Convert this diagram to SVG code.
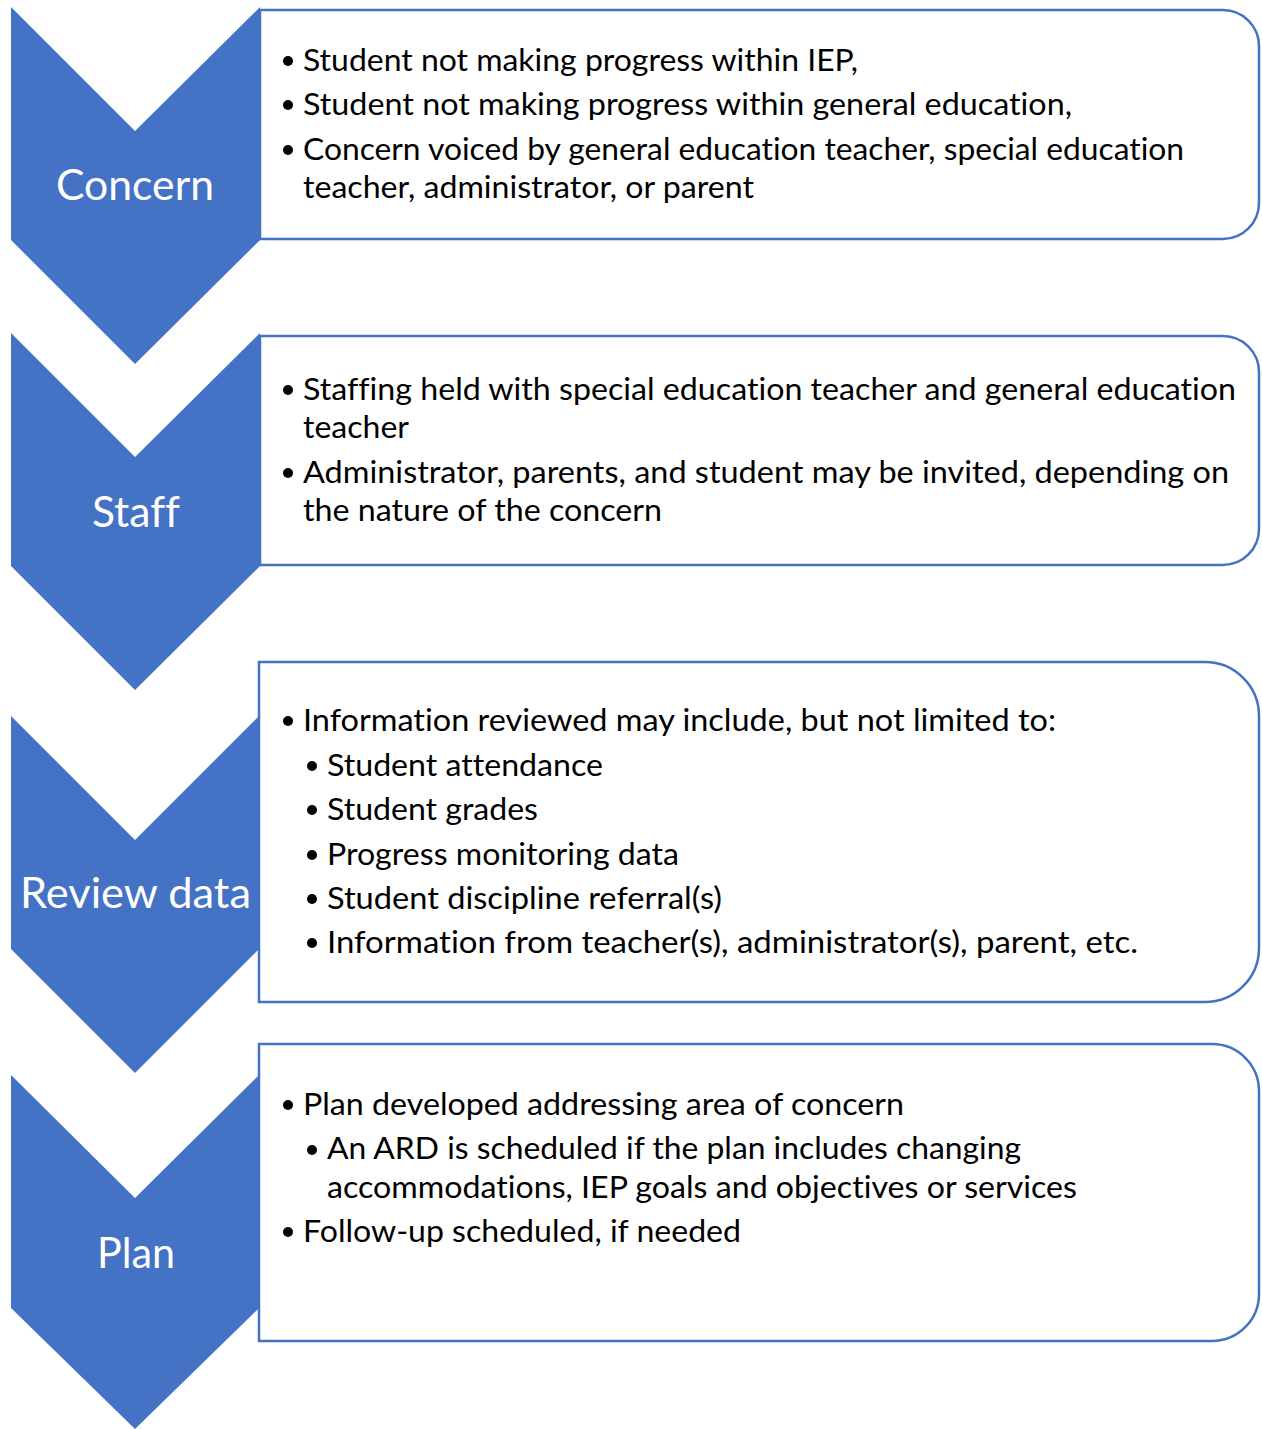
<svg xmlns="http://www.w3.org/2000/svg" width="1262" height="1429" viewBox="0 0 1262 1429">
  <style>
    .chev { fill: #4472C4; }
    .box { fill: #FFFFFF; stroke: #4472C4; stroke-width: 2.5; }
    text { font-variant-ligatures: none; font-feature-settings: "liga" 0, "clig" 0, "dlig" 0; }
    .label { font-family: Lato, "Open Sans", "Liberation Sans", sans-serif; font-size: 43px; fill: #FFFFFF; text-anchor: middle; }
    .item { font-family: Lato, "Open Sans", "Liberation Sans", sans-serif; font-size: 31px; fill: #000000; }
    .dot { fill: #000000; }
  </style>
  <rect width="1262" height="1429" fill="#FFFFFF"/>

  <!-- Step 1: Concern -->
  <g id="step-concern">
    <polygon class="chev" points="11,7 135,131 260,7 260,240 135,364 11,240"/>
    <text class="label" x="135" y="200" textLength="158" lengthAdjust="spacingAndGlyphs">Concern</text>
  </g>
  <!-- Step 2: Staff -->
  <g id="step-staff">
    <polygon class="chev" points="11,333 135,457 260,333 260,566 135,690 11,566"/>
    <text class="label" x="136" y="527" textLength="88" lengthAdjust="spacingAndGlyphs">Staff</text>
  </g>
  <!-- Step 3: Review data -->
  <g id="step-review">
    <polygon class="chev" points="11,716 135,840 259,716 259,949 135,1073 11,949"/>
    <text class="label" x="135.5" y="908" textLength="231" lengthAdjust="spacingAndGlyphs">Review data</text>
  </g>
  <!-- Step 4: Plan -->
  <g id="step-plan">
    <polygon class="chev" points="11,1075 135,1198 259,1075 259,1308 135,1429 11,1308"/>
    <text class="label" x="136" y="1268" textLength="78" lengthAdjust="spacingAndGlyphs">Plan</text>
  </g>

  <!-- Detail panels: square left side, rounded right corners -->
  <g id="detail-concern">
    <path class="box" d="M260,10 H1223 A36,36 0 0 1 1259,46 V203 A36,36 0 0 1 1223,239 H260 Z"/>
    <circle class="dot" cx="288" cy="61" r="5"/>
    <text class="item" x="303" y="71" textLength="555" lengthAdjust="spacingAndGlyphs">Student not making progress within IEP,</text>
    <circle class="dot" cx="288" cy="105" r="5"/>
    <text class="item" x="303" y="115" textLength="769" lengthAdjust="spacingAndGlyphs">Student not making progress within general education,</text>
    <circle class="dot" cx="288" cy="150" r="5"/>
    <text class="item" x="303" y="160" textLength="881" lengthAdjust="spacingAndGlyphs">Concern voiced by general education teacher, special education</text>
    <text class="item" x="303" y="198" textLength="451" lengthAdjust="spacingAndGlyphs">teacher, administrator, or parent</text>
  </g>

  <g id="detail-staff">
    <path class="box" d="M260,336 H1223 A36,36 0 0 1 1259,372 V529 A36,36 0 0 1 1223,565 H260 Z"/>
    <circle class="dot" cx="288" cy="390" r="5"/>
    <text class="item" x="303" y="400" textLength="933" lengthAdjust="spacingAndGlyphs">Staffing held with special education teacher and general education</text>
    <text class="item" x="303" y="438" textLength="106" lengthAdjust="spacingAndGlyphs">teacher</text>
    <circle class="dot" cx="288" cy="473" r="5"/>
    <text class="item" x="303" y="483" textLength="926" lengthAdjust="spacingAndGlyphs">Administrator, parents, and student may be invited, depending on</text>
    <text class="item" x="303" y="521" textLength="359" lengthAdjust="spacingAndGlyphs">the nature of the concern</text>
  </g>

  <g id="detail-review">
    <path class="box" d="M259,662 H1205 A54,54 0 0 1 1259,716 V948 A54,54 0 0 1 1205,1002 H259 Z"/>
    <circle class="dot" cx="288" cy="721" r="5"/>
    <text class="item" x="303" y="731" textLength="753" lengthAdjust="spacingAndGlyphs">Information reviewed may include, but not limited to:</text>
    <circle class="dot" cx="312" cy="766" r="5"/>
    <text class="item" x="327" y="776" textLength="276" lengthAdjust="spacingAndGlyphs">Student attendance</text>
    <circle class="dot" cx="312" cy="810" r="5"/>
    <text class="item" x="327" y="820" textLength="211" lengthAdjust="spacingAndGlyphs">Student grades</text>
    <circle class="dot" cx="312" cy="855" r="5"/>
    <text class="item" x="327" y="865" textLength="352" lengthAdjust="spacingAndGlyphs">Progress monitoring data</text>
    <circle class="dot" cx="312" cy="899" r="5"/>
    <text class="item" x="327" y="909" textLength="395" lengthAdjust="spacingAndGlyphs">Student discipline referral(s)</text>
    <circle class="dot" cx="312" cy="943" r="5"/>
    <text class="item" x="327" y="953" textLength="811" lengthAdjust="spacingAndGlyphs">Information from teacher(s), administrator(s), parent, etc.</text>
  </g>

  <g id="detail-plan">
    <path class="box" d="M259,1044 H1212 A47,47 0 0 1 1259,1091 V1294 A47,47 0 0 1 1212,1341 H259 Z"/>
    <circle class="dot" cx="288" cy="1105" r="5"/>
    <text class="item" x="303" y="1115" textLength="601" lengthAdjust="spacingAndGlyphs">Plan developed addressing area of concern</text>
    <circle class="dot" cx="312" cy="1150" r="5"/>
    <text class="item" x="327" y="1159" textLength="694" lengthAdjust="spacingAndGlyphs">An ARD is scheduled if the plan includes changing</text>
    <text class="item" x="327" y="1198" textLength="750" lengthAdjust="spacingAndGlyphs">accommodations, IEP goals and objectives or services</text>
    <circle class="dot" cx="288" cy="1232" r="5"/>
    <text class="item" x="303" y="1242" textLength="438" lengthAdjust="spacingAndGlyphs">Follow-up scheduled, if needed</text>
  </g>

  <!-- No connectors: the chevrons carry the flow -->
  <g id="connectors"/>
</svg>
